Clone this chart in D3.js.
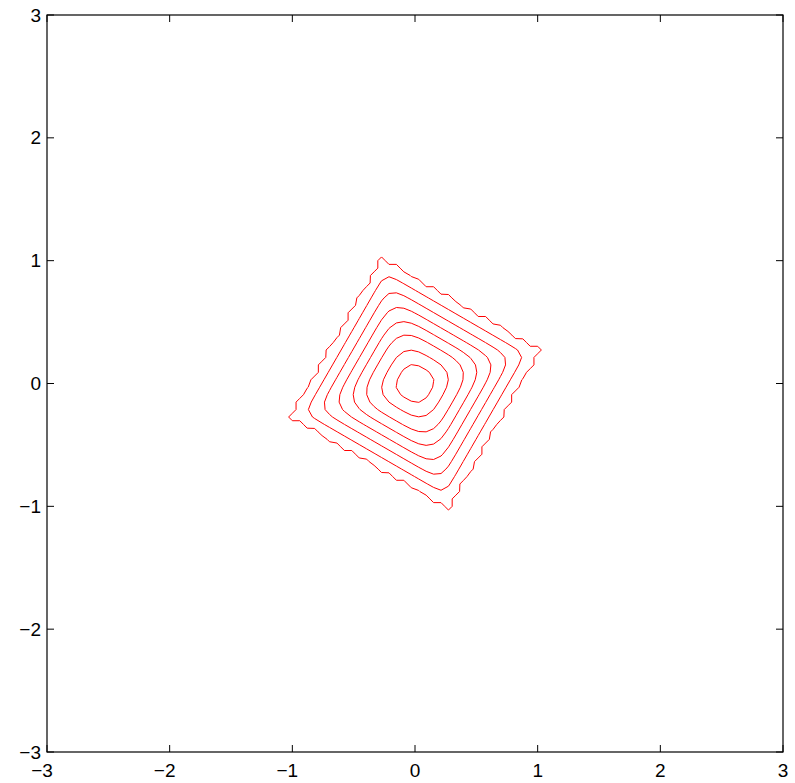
<!DOCTYPE html>
<html>
<head>
<meta charset="utf-8">
<script src="https://cdnjs.cloudflare.com/ajax/libs/d3/7.8.5/d3.min.js"></script>
<style>
  body { margin: 0; background: #fff; }
  text { font-family: "Liberation Sans", Arial, sans-serif; font-size: 19px; fill: #000; }
</style>
</head>
<body>
<script>
// Axis ticks (both axes)
var xTicks = [-3, -2, -1, 0, 1, 2, 3];
var yTicks = [-3, -2, -1, 0, 1, 2, 3];

// Contour lines, outermost first: half width (data units) and squareness exponent
// Infinity = edge of the surface, sampled on the grid (gives the wavy outline)
var contourHalfWidth = [0.745, 0.658, 0.576, 0.498, 0.420, 0.340, 0.243, 0.142];
var contourExponent = [Infinity, 20, 11, 7, 5, 4, 3.2, 2.8];
var contourTiltDeg = -30;

// grid the surface is sampled on
var gridSize = 100;
var gridMin = -3, gridMax = 3;

// SVG area
var svgWidth = 795;
var svgHeight = 783;

var margin = { top: 15, right: 12, bottom: 31, left: 47 };
var chartWidth = svgWidth - margin.left - margin.right;
var chartHeight = svgHeight - margin.top - margin.bottom;

var svg = d3.select("body")
  .append("svg")
  .attr("width", svgWidth)
  .attr("height", svgHeight);

var chartGroup = svg.append("g")
  .attr("transform", `translate(${margin.left}, ${margin.top})`);

var xScale = d3.scaleLinear().domain([-3, 3]).range([0, chartWidth]);
var yScale = d3.scaleLinear().domain([-3, 3]).range([chartHeight, 0]);

// grid spacing
var step = (gridMax - gridMin) / (gridSize - 1);
var tilt = contourTiltDeg * Math.PI / 180;
// width of the drop at the surface edge
var edgeRamp = 0.1 * step;

// grid coords from d3.contours -> data coords -> pixels
var projection = d3.geoTransform({
  point: function(gx, gy) {
    var x = gridMin + (gx - 0.5) * step;
    var y = gridMin + (gy - 0.5) * step;
    this.stream.point(xScale(x), yScale(y));
  }
});
var path = d3.geoPath(projection);

var contourGen = d3.contours()
  .size([gridSize, gridSize])
  .thresholds([1]);

contourHalfWidth.forEach(function(a, k) {
  var p = contourExponent[k];
  var values = new Array(gridSize * gridSize);
  for (var j = 0; j < gridSize; j++) {
    var y = gridMin + j * step;
    for (var i = 0; i < gridSize; i++) {
      var x = gridMin + i * step;
      // rotate into the square's own axes
      var u = Math.abs(x * Math.cos(tilt) + y * Math.sin(tilt)) / a;
      var v = Math.abs(-x * Math.sin(tilt) + y * Math.cos(tilt)) / a;
      var val;
      if (p === Infinity) {
        var dist = (Math.max(u, v) - 1) * a;
        val = 1 - Math.max(-1, Math.min(1, dist / edgeRamp));
      } else {
        val = 2 - Math.pow(Math.pow(u, p) + Math.pow(v, p), 1 / p);
      }
      values[i + j * gridSize] = val;
    }
  }
  chartGroup.append("path")
    .datum(contourGen(values)[0])
    .attr("d", path)
    .attr("fill", "none")
    .attr("stroke", "#ff0000")
    .attr("stroke-width", 1);
});

// box
chartGroup.append("rect")
  .attr("x", 0)
  .attr("y", 0)
  .attr("width", chartWidth)
  .attr("height", chartHeight)
  .attr("fill", "none")
  .attr("stroke", "#000")
  .attr("stroke-width", 1.2);

// ticks pointing inward on all four sides
var tickLen = 7;
xTicks.forEach(function(t) {
  chartGroup.append("line")
    .attr("x1", xScale(t)).attr("x2", xScale(t))
    .attr("y1", chartHeight).attr("y2", chartHeight - tickLen)
    .attr("stroke", "#000");
  chartGroup.append("line")
    .attr("x1", xScale(t)).attr("x2", xScale(t))
    .attr("y1", 0).attr("y2", tickLen)
    .attr("stroke", "#000");
});
yTicks.forEach(function(t) {
  chartGroup.append("line")
    .attr("x1", 0).attr("x2", tickLen)
    .attr("y1", yScale(t)).attr("y2", yScale(t))
    .attr("stroke", "#000");
  chartGroup.append("line")
    .attr("x1", chartWidth).attr("x2", chartWidth - tickLen)
    .attr("y1", yScale(t)).attr("y2", yScale(t))
    .attr("stroke", "#000");
});

var fmt = d3.format("d");

// x tick labels (minus sign hangs left of the digit)
chartGroup.selectAll(".xlabel")
  .data(xTicks)
  .enter()
  .append("text")
  .attr("class", "xlabel")
  .attr("x", d => xScale(d) - (d < 0 ? 5 : 0))
  .attr("y", chartHeight + 25)
  .style("text-anchor", "middle")
  .text(d => fmt(d));

// y tick labels
chartGroup.selectAll(".ylabel")
  .data(yTicks)
  .enter()
  .append("text")
  .attr("class", "ylabel")
  .attr("x", -6)
  .attr("y", d => yScale(d))
  .attr("dy", "0.35em")
  .style("text-anchor", "end")
  .text(d => fmt(d));
</script>
</body>
</html>
